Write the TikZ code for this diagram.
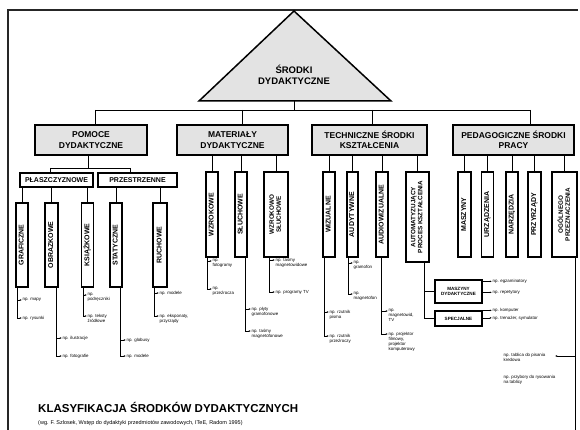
\documentclass[tikz,border=0pt]{standalone}
\usepackage{fontspec}
\setmainfont{Liberation Sans}
\usepackage{graphicx}
\usetikzlibrary{arrows.meta}

% rotated (bottom-to-top) box text, one or more lines
\newcommand\vtext[1]{\rotatebox{90}{\begin{tabular}{@{}c@{}}#1\end{tabular}}}
% example label with a leader arrow: #1 start on box, #2 name, #3 x, #4 y, #5 text
\newcommand\leadlabel[5]{%
  \node[lbl] (#2) at (#3,#4) {#5};
  \draw[lead] (#1) |- ([yshift=-2.6pt]#2.north west);}

\tikzset{
  topbox/.style={draw, line width=1.5pt, fill=black!11, minimum height=30pt,
    inner sep=1pt, align=center, outer sep=0pt,
    font=\bfseries\fontsize{8.5}{10.5}\selectfont},
  midbox/.style={draw, line width=1.2pt, fill=white, minimum height=14pt,
    inner sep=0.5pt, outer sep=0pt, font=\bfseries\fontsize{7}{8}\selectfont},
  vbox/.style={draw, line width=1.2pt, fill=white, inner sep=0pt, outer sep=0pt,
    font=\bfseries\fontsize{7}{7.6}\selectfont},
  vbox2/.style={vbox, font=\bfseries\fontsize{6.3}{7}\selectfont},
  smallbox/.style={draw, line width=1.1pt, fill=white, inner sep=0.5pt, outer sep=0pt,
    align=center, font=\bfseries\fontsize{4.6}{5.4}\selectfont},
  link/.style={line width=0.9pt},
  lead/.style={line width=0.6pt, -{Latex[length=2.2pt,width=1.8pt]}},
  lbl/.style={anchor=north west, yshift=2.6pt, inner sep=0.4pt, align=left,
    font=\fontsize{4.4}{5}\selectfont},
  lblw/.style={lbl, anchor=west, yshift=0pt},
}

\begin{document}
\begin{tikzpicture}[x=1pt, y=-1pt]
\useasboundingbox (0,0) rectangle (580,430);

% page frame
\draw[line width=1.6pt, black!85] (8,430) -- (8,10) -- (578,10);

% apex triangle
\coordinate (apex) at (294,11);
\coordinate (tl) at (199,101);
\coordinate (tr) at (391,101);
\draw[line width=1.5pt, fill=black!11] (apex) -- (tl) -- (tr) -- cycle;
\node[font=\bfseries\fontsize{9.5}{11.5}\selectfont, align=center] (root) at (294,75) {ŚRODKI\\DYDAKTYCZNE};
\coordinate (tb) at (294,101);

% first level
\node[topbox, minimum width=112pt] (pomoce) at (91,140) {POMOCE\\DYDAKTYCZNE};
\node[topbox, minimum width=111pt] (materialy) at (232.5,140) {MATERIAŁY\\DYDAKTYCZNE};
\node[topbox, minimum width=115pt] (techniczne) at (369.5,140) {TECHNICZNE ŚRODKI\\KSZTAŁCENIA};
\node[topbox, minimum width=121pt] (pedag) at (513.5,140) {PEDAGOGICZNE ŚRODKI\\PRACY};

\coordinate (jP) at (95,110);
\coordinate (jM) at (242,110);
\coordinate (jT) at (372,110);
\coordinate (jG) at (530,110);
\draw[link] (tb) -- (tb |- jP);
\draw[link] (jP) -- (jG);
\draw[link] (jP) -- (jP |- pomoce.north);
\draw[link] (jM) -- (jM |- materialy.north);
\draw[link] (jT) -- (jT |- techniczne.north);
\draw[link] (jG) -- (jG |- pedag.north);

% second level under POMOCE DYDAKTYCZNE
\node[midbox, minimum width=73pt] (plaszcz) at (56.5,180) {PŁASZCZYZNOWE};
\node[midbox, minimum width=79pt] (przestrz) at (137.5,180) {PRZESTRZENNE};
\coordinate (jPd) at (88,168);
\coordinate (jA) at (50,168);
\coordinate (jB) at (130,168);
\draw[link] (pomoce.south -| jPd) -- (jPd);
\draw[link] (jA) -- (jB);
\draw[link] (jA) -- (jA |- plaszcz.north);
\draw[link] (jB) -- (jB |- przestrz.north);

% third level under POMOCE
\node[vbox, minimum width=12pt, minimum height=84pt] (graf) at (22,245) {\vtext{GRAFICZNE}};
\node[vbox, minimum width=13pt, minimum height=84pt] (obraz) at (51.5,245) {\vtext{OBRAZKOWE}};
\node[vbox, minimum width=12pt, minimum height=84pt] (ksiaz) at (87.5,245) {\vtext{KSIĄŻKOWE}};
\node[vbox, minimum width=12pt, minimum height=84pt] (stat) at (116,245) {\vtext{STATYCZNE}};
\node[vbox, minimum width=14pt, minimum height=84pt] (ruch) at (160,245) {\vtext{RUCHOWE}};
\foreach \c in {graf,obraz,ksiaz} \draw[link] (plaszcz.south -| \c.north) -- (\c.north);
\foreach \c in {stat,ruch} \draw[link] (przestrz.south -| \c.north) -- (\c.north);

% MATERIAŁY children
\node[vbox, minimum width=12pt, minimum height=85pt] (wzrok) at (212,214.5) {\vtext{WZROKOWE}};
\node[vbox, minimum width=12pt, minimum height=85pt] (sluch) at (241,214.5) {\vtext{SŁUCHOWE}};
\node[vbox2, minimum width=24pt, minimum height=85pt] (wzsl) at (276,214.5) {\vtext{WZROKOWO\\SŁUCHOWE}};
\foreach \c in {wzrok,sluch,wzsl} \draw[link] (materialy.south -| \c.north) -- (\c.north);

% TECHNICZNE children
\node[vbox, minimum width=12pt, minimum height=85pt] (wiz) at (329,214.5) {\vtext{WIZUALNE}};
\node[vbox, minimum width=11pt, minimum height=85pt] (audyt) at (352.5,214.5) {\vtext{AUDYTYWNE}};
\node[vbox, minimum width=12pt, minimum height=85pt] (audiow) at (382,214.5) {\vtext{AUDIOWIZUALNE}};
\node[vbox2, minimum width=23pt, minimum height=90pt] (automat) at (417.5,217) {\vtext{AUTOMATYZUJĄCY\\PROCES KSZTAŁCENIA}};
\foreach \c in {wiz,audyt,audiow,automat} \draw[link] (techniczne.south -| \c.north) -- (\c.north);

% machines branch
\node[smallbox, minimum width=47pt, minimum height=23pt] (maszdyd) at (458.5,291.5) {MASZYNY\\DYDAKTYCZNE};
\node[smallbox, minimum width=47pt, minimum height=15pt] (specj) at (458.5,318.5) {SPECJALNE};
\draw[link] ([xshift=-4.5pt]automat.south east) |- (specj.west);
\draw[link] ([xshift=-4.5pt]automat.south east) |- (maszdyd.west);

% PEDAGOGICZNE children
\node[vbox, minimum width=13pt, minimum height=85pt] (maszyny) at (464.5,214.5) {\vtext{MASZYNY}};
\node[vbox, minimum width=12pt, minimum height=85pt] (urzadz) at (487.5,214.5) {\vtext{URZĄDZENIA}};
\node[vbox, minimum width=12pt, minimum height=85pt] (narzedz) at (512,214.5) {\vtext{NARZĘDZIA}};
\node[vbox, minimum width=13pt, minimum height=85pt] (przyrz) at (534.5,214.5) {\vtext{PRZYRZĄDY}};
\node[vbox2, minimum width=25pt, minimum height=85pt] (ogol) at (564.5,214.5) {\vtext{OGÓLNEGO\\PRZEZNACZENIA}};
\foreach \c in {maszyny,urzadz,narzedz,przyrz,ogol} \draw[link] (pedag.south -| \c.north) -- (\c.north);

% example labels
\leadlabel{[xshift=1.5pt]graf.south west}{g1}{22}{300}{np. mapy}
\leadlabel{[xshift=1.5pt]graf.south west}{g2}{22}{318}{np. rysunki}
\leadlabel{[xshift=-1.5pt]obraz.south east}{o1}{62}{338}{np. ilustracje}
\leadlabel{[xshift=-1.5pt]obraz.south east}{o2}{62}{356}{np. fotografie}
\leadlabel{[xshift=1.5pt]ksiaz.south west}{k1}{87}{295}{np.\\podręczniki}
\leadlabel{[xshift=1.5pt]ksiaz.south west}{k2}{87}{316}{np. teksty\\źródłowe}
\leadlabel{[xshift=-1.5pt]stat.south east}{s1}{126}{340}{np. globusy}
\leadlabel{[xshift=-1.5pt]stat.south east}{s2}{126}{356}{np. modele}
\leadlabel{[xshift=1.5pt]ruch.south west}{r1}{159}{293}{np. modele}
\leadlabel{[xshift=1.5pt]ruch.south west}{r2}{159}{316}{np. eksponaty,\\przyrządy}

\leadlabel{[xshift=1.5pt]wzrok.south west}{w1}{212}{261}{np.\\fotogramy}
\leadlabel{[xshift=1.5pt]wzrok.south west}{w2}{212}{289}{np.\\przeźrocza}
\leadlabel{[xshift=-1.5pt]sluch.south east}{l1}{251}{309}{np. płyty\\gramofonowe}
\leadlabel{[xshift=-1.5pt]sluch.south east}{l2}{251}{331}{np. taśmy\\magnetofonowe}
\leadlabel{[xshift=5pt]wzsl.south west}{ws1}{275}{260}{np. taśmy\\magnetowidowe}
\leadlabel{[xshift=5pt]wzsl.south west}{ws2}{275}{292}{np. programy TV}

\leadlabel{[xshift=1.5pt]wiz.south west}{v1}{329}{312}{np. rzutnik\\pisma}
\leadlabel{[xshift=1.5pt]wiz.south west}{v2}{329}{336}{np. rzutnik\\przeźroczy}
\leadlabel{[xshift=1.5pt]audyt.south west}{a1}{353}{263}{np.\\gramofon}
\leadlabel{[xshift=1.5pt]audyt.south west}{a2}{353}{294}{np.\\magnetofon}
\leadlabel{[xshift=5pt]audiow.south west}{av1}{388}{311}{np.\\magnetowid,\\TV}
\leadlabel{[xshift=5pt]audiow.south west}{av2}{388}{334}{np. projektor\\filmowy,\\projektor\\komputerowy}

\node[lblw] (m1) at (492,284) {np. egzaminatory};
\node[lblw] (m2) at (492,295) {np. repetytory};
\node[lblw] (sp1) at (492,313) {np. komputer};
\node[lblw] (sp2) at (492,320.5) {np. trenażer, symulator};
\foreach \t in {m1,m2} \draw[lead] (maszdyd.east |- \t.west) -- (\t.west);
\foreach \t in {sp1,sp2} \draw[lead] (specj.east |- \t.west) -- (\t.west);

% general-purpose branch along the right edge
\coordinate (ogEnd) at (575,430);
\coordinate (ogArr) at (575,356);
\draw[link] ([xshift=-2pt]ogol.south east) -- (ogEnd);
\node[lbl] (og1) at (503,355) {np. tablica do pisania\\kredowa};
\node[lbl] (og2) at (503,377) {np. przybory do rysowania\\na tablicy};
\draw[lead, shorten >=9pt] (ogArr) -- (ogArr -| og1.east);

% caption
\node[anchor=west, inner sep=0pt, font=\bfseries\fontsize{11.5}{13}\selectfont] (title) at (38,407) {KLASYFIKACJA ŚRODKÓW DYDAKTYCZNYCH};
\node[anchor=west, inner sep=0pt, font=\fontsize{5.5}{6}\selectfont] (source) at (38,423) {(wg. F. Szlosek, Wstęp do dydaktyki przedmiotów zawodowych, ITeE, Radom 1995)};
\end{tikzpicture}
\end{document}
